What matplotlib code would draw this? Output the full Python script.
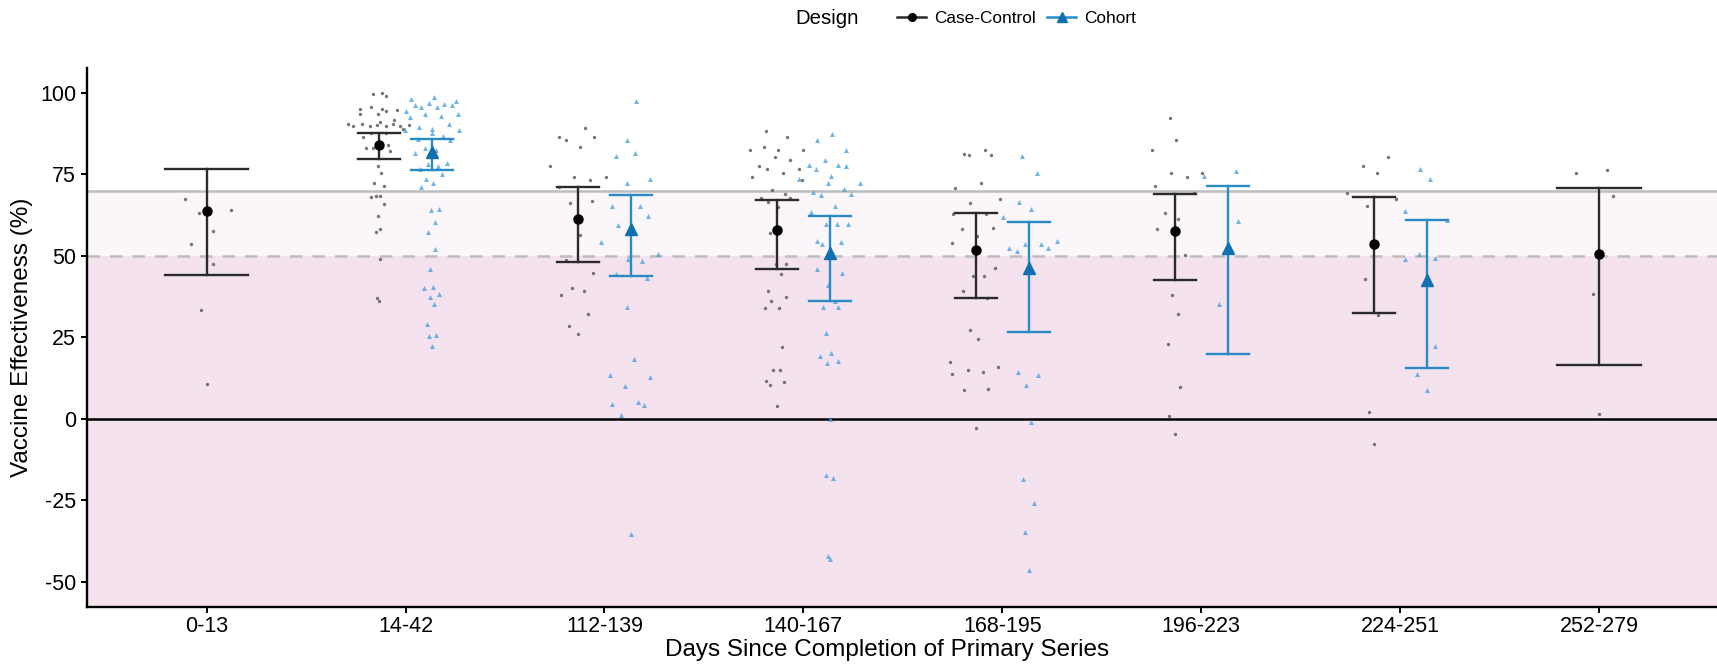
import matplotlib
matplotlib.use("Agg")
import matplotlib.pyplot as plt
from matplotlib.lines import Line2D

plt.rcParams['font.family'] = ['Liberation Sans', 'DejaVu Sans']
plt.rcParams['axes.unicode_minus'] = False

# categories on the x axis
categories = ["0-13", "14-42", "112-139", "140-167", "168-195", "196-223", "224-251", "252-279"]

# pooled estimates (None = design not present for that interval)
cc_mean = [63.8, 84.0, 61.4, 58.0, 51.9, 57.7, 53.5, 50.6]
cc_lo = [44.0, 79.7, 48.1, 46.1, 37.1, 42.6, 32.5, 16.6]
cc_hi = [76.7, 87.5, 71.1, 67.2, 63.2, 68.9, 67.9, 70.9]
co_mean = [None, 81.8, 58.1, 51.0, 46.2, 52.4, 42.7, None]
co_lo = [None, 76.2, 43.9, 36.2, 26.7, 20.0, 15.5, None]
co_hi = [None, 85.7, 68.6, 62.1, 60.5, 71.5, 61.1, None]

# individual study estimates, case-control
cc_points = [
    [67.4, 63.0, 63.9, 57.6, 53.6, 47.5, 33.4, 10.6],
    [99.6, 99.9, 99.0, 95.0, 95.7, 95.0, 94.3, 94.6, 93.4, 93.5, 90.4, 89.7, 90.4, 89.7, 90.2,
     91.0, 89.7, 90.4, 89.7, 88.9, 90.2, 91.5, 87.5, 87.5, 86.4, 83.1, 82.9, 84.0, 82.2, 77.4,
     75.4, 72.3, 71.4, 68.1, 68.3, 68.3, 65.9, 62.2, 57.3, 58.2, 49.1, 37.2, 36.1],
    [89.1, 86.4, 85.4, 86.4, 83.4, 77.4, 74.3, 73.3, 74.3, 71.1, 66.3, 66.7, 56.4, 48.8, 44.7,
     40.2, 39.3, 38.1, 32.1, 28.5, 26.0],
    [88.4, 86.4, 83.3, 82.3, 82.3, 82.3, 80.4, 79.4, 77.4, 76.5, 76.5, 75.3, 74.3, 73.3, 70.3,
     68.8, 67.6, 66.5, 67.6, 65.0, 56.9, 47.5, 47.5, 44.5, 39.3, 36.1, 37.3, 34.1, 34.1, 22.1,
     15.0, 15.0, 11.5, 10.5, 11.4, 4.0],
    [81.3, 80.8, 82.3, 80.8, 70.9, 72.2, 66.2, 67.3, 62.9, 62.9, 58.2, 58.6, 56.2, 53.9, 46.2,
     43.7, 43.7, 39.2, 37.2, 27.1, 24.4, 17.5, 13.9, 14.9, 14.4, 16.0, 8.8, 9.2, -2.7],
    [92.4, 85.4, 82.3, 75.3, 74.3, 75.3, 71.4, 69.2, 63.2, 61.3, 58.2, 50.2, 38.1, 32.1, 23.1,
     9.7, 1.0, -4.5],
    [80.4, 77.4, 75.3, 69.3, 67.3, 65.3, 43.0, 31.9, 2.0, -7.6],
    [75.3, 76.3, 68.3, 38.4, 1.4],
]
cc_jitter = [
    [-0.11, -0.04, 0.12, 0.03, -0.08, 0.03, -0.03, 0.0],
    [-0.163, -0.118, -0.100, -0.231, -0.172, -0.118, -0.100, -0.041, -0.231, -0.140, -0.289,
     -0.262, -0.217, -0.181, -0.145, -0.127, -0.100, -0.065, -0.029, -0.014, 0.018, -0.059,
     -0.172, -0.097, -0.212, -0.163, -0.199, -0.086, -0.079, -0.140, -0.122, -0.158, -0.108,
     -0.172, -0.151, -0.127, -0.106, -0.140, -0.149, -0.127, -0.129, -0.143, -0.133],
    [-0.097, -0.231, -0.195, -0.052, -0.124, -0.276, -0.152, -0.072, 0.009, -0.228, -0.174,
     -0.061, -0.125, -0.195, -0.057, -0.161, -0.102, -0.221, -0.082, -0.176, -0.133],
    [-0.188, -0.081, -0.197, -0.269, -0.129, -0.004, -0.143, -0.066, -0.224, -0.183, -0.023,
     -0.104, -0.260, -0.009, -0.160, -0.095, -0.215, -0.179, -0.068, -0.129, -0.170, -0.140,
     -0.086, -0.111, -0.179, -0.161, -0.088, -0.192, -0.125, -0.106, -0.151, -0.117, -0.186,
     -0.169, -0.099, -0.133],
    [-0.195, -0.169, -0.088, -0.057, -0.240, -0.109, -0.163, -0.014, -0.246, -0.082, -0.201,
     -0.048, -0.125, -0.251, -0.038, -0.147, -0.091, -0.197, -0.079, -0.163, -0.124, -0.262,
     -0.251, -0.174, -0.095, -0.020, -0.194, -0.074, -0.134],
    [-0.158, -0.125, -0.246, -0.152, -0.072, 0.005, -0.233, -0.036, -0.181, -0.117, -0.222,
     -0.084, -0.145, -0.118, -0.167, -0.109, -0.161, -0.133],
    [-0.061, -0.186, -0.115, -0.269, -0.022, -0.167, -0.177, -0.111, -0.158, -0.133],
    [-0.117, 0.039, 0.070, -0.029, 0.0],
]

# individual study estimates, cohort
co_points = [
    [],
    [98.1, 96.3, 95.6, 96.7, 98.7, 95.5, 96.5, 96.2, 97.6, 94.4, 92.6, 93.5, 92.9, 93.5, 89.4,
     88.8, 88.6, 90.4, 88.6, 87.5, 86.6, 85.6, 85.8, 82.9, 81.4, 82.5, 78.2, 77.6, 78.5, 76.5,
     75.2, 73.4, 72.4, 71.0, 64.1, 64.4, 60.4, 57.3, 52.1, 45.8, 40.2, 40.3, 37.3, 38.2, 35.2,
     29.2, 25.4, 25.8, 22.3],
    [97.6, 85.6, 81.4, 80.5, 73.4, 72.3, 65.3, 65.4, 62.2, 59.3, 54.3, 50.4, 49.0, 48.3, 44.3,
     43.2, 34.2, 18.2, 13.4, 12.8, 10.0, 4.5, 5.2, 4.2, 1.2, -35.2],
    [87.3, 85.4, 82.5, 79.5, 77.8, 76.6, 77.9, 77.5, 74.5, 73.5, 72.4, 72.3, 70.4, 69.5, 68.5,
     68.9, 65.4, 63.3, 59.6, 59.6, 59.7, 54.4, 53.5, 54.3, 46.0, 44.6, 40.9, 36.2, 34.2, 34.2,
     26.3, 19.2, 20.2, 17.1, 17.8, 0.1, -17.3, -18.0, -42.0, -42.9],
    [80.6, 75.5, 66.4, 64.4, 61.8, 52.5, 51.4, 53.5, 53.5, 52.5, 54.4, 14.3, 13.3, 10.3, -0.9,
     -18.6, -25.9, -34.6, -46.3],
    [74.5, 76.0, 60.6, 35.3],
    [76.5, 73.4, 63.6, 61.0, 50.5, 49.0, 49.4, 22.3, 13.7, 8.8],
    [],
]
co_jitter = [
    [],
    [0.025, 0.048, 0.079, 0.120, 0.145, 0.160, 0.192, 0.231, 0.253, 0.004, 0.020, 0.100, 0.179,
     0.262, 0.065, 0.133, -0.002, 0.217, 0.271, 0.131, 0.186, 0.222, 0.061, 0.100, 0.048, 0.151,
     0.115, 0.165, 0.210, 0.075, 0.181, 0.104, 0.140, 0.079, 0.129, 0.169, 0.147, 0.115, 0.149,
     0.124, 0.093, 0.140, 0.122, 0.170, 0.145, 0.108, 0.117, 0.152, 0.134],
    [0.158, 0.111, 0.152, 0.056, 0.229, 0.115, 0.038, 0.179, 0.219, 0.066, -0.016, 0.271, 0.117,
     0.190, 0.056, 0.212, 0.115, 0.147, 0.029, 0.229, 0.102, 0.038, 0.169, 0.201, 0.082, 0.134],
    [0.143, 0.070, 0.215, 0.106, 0.030, 0.065, 0.174, 0.213, 0.140, -0.020, 0.124, 0.283, 0.203,
     0.048, 0.088, 0.237, 0.158, 0.036, 0.115, 0.169, 0.224, 0.068, 0.093, 0.188, 0.066, 0.195,
     0.125, 0.158, 0.099, 0.172, 0.115, 0.082, 0.140, 0.120, 0.176, 0.136, 0.115, 0.147, 0.122,
     0.134],
    [0.099, 0.172, 0.084, 0.142, 0.004, 0.036, 0.075, 0.115, 0.192, 0.231, 0.274, 0.081, 0.181,
     0.118, 0.143, 0.104, 0.158, 0.113, 0.134],
    [0.016, 0.174, 0.185, 0.091],
    [0.099, 0.149, 0.022, 0.237, 0.095, 0.023, 0.174, 0.174, 0.084, 0.136],
    [],
]

CC_COL = "#2b2b2b"
CO_COL = "#2a8ac6"
CO_MEAN_COL = "#1070b0"
CC_PT = "#555555"
CO_PT = "#4fa3dc"

W, H = 1717, 668
fig = plt.figure(figsize=(W / 100, H / 100), dpi=100)
ax = fig.add_axes([87.3 / W, 0.0918, 0.950, 0.806])

# background bands and reference lines
ax.axhspan(-200, 50, color="#f4e3ee", zorder=0, lw=0)
ax.axhspan(50, 70, color="#fbf6f9", zorder=0, lw=0)
ax.axhline(70, color="#bdbdbd", lw=1.8, zorder=1)
ax.axhline(50, color="#bdbdbd", lw=1.8, ls=(0, (5, 4)), zorder=1)
ax.axhline(0, color="black", lw=1.8, zorder=1)

dodge = 0.133
for i in range(len(categories)):
    x0 = i + 1
    has_co = co_mean[i] is not None
    cc_x = x0 - dodge if has_co else x0
    cap = 0.105 if has_co else 0.21

    # study points
    ax.scatter([x0 + d for d in cc_jitter[i]], cc_points[i], s=6, color=CC_PT,
               alpha=0.8, lw=0, zorder=2)
    if co_points[i]:
        ax.scatter([x0 + d for d in co_jitter[i]], co_points[i], s=13, marker="^",
                   color=CO_PT, alpha=0.8, lw=0, zorder=2)

    # pooled estimates with intervals
    ax.plot([cc_x, cc_x], [cc_lo[i], cc_hi[i]], color=CC_COL, lw=1.7, zorder=3)
    ax.plot([cc_x - cap, cc_x + cap], [cc_lo[i], cc_lo[i]], color=CC_COL, lw=1.7, zorder=3)
    ax.plot([cc_x - cap, cc_x + cap], [cc_hi[i], cc_hi[i]], color=CC_COL, lw=1.7, zorder=3)
    ax.plot(cc_x, cc_mean[i], "o", color="black", ms=6.5, zorder=4)
    if has_co:
        co_x = x0 + dodge
        ax.plot([co_x, co_x], [co_lo[i], co_hi[i]], color=CO_COL, lw=1.7, zorder=3)
        ax.plot([co_x - cap, co_x + cap], [co_lo[i], co_lo[i]], color=CO_COL, lw=1.7, zorder=3)
        ax.plot([co_x - cap, co_x + cap], [co_hi[i], co_hi[i]], color=CO_COL, lw=1.7, zorder=3)
        ax.plot(co_x, co_mean[i], "^", color=CO_MEAN_COL, ms=8, zorder=4)

ax.set_xlim(0.4, 8.6)
ax.set_ylim(-57.6, 107.5)
ax.set_xticks(range(1, len(categories) + 1))
ax.set_xticklabels(categories)
ax.set_yticks([-50, -25, 0, 25, 50, 75, 100])
ax.tick_params(labelsize=15.5, colors="black", length=4, width=1.4)
ax.tick_params(axis="y", pad=4)
ax.tick_params(axis="x", pad=3)
for s in ["top", "right"]:
    ax.spines[s].set_visible(False)
for s in ["left", "bottom"]:
    ax.spines[s].set_linewidth(1.7)
ax.set_xlabel("Days Since Completion of Primary Series", fontsize=17.5, va="center")
ax.set_ylabel("Vaccine Effectiveness (%)", fontsize=17.5, va="center")
ax.xaxis.set_label_coords(0.49, -(650 - 606.7) / (0.806 * H))
ax.yaxis.set_label_coords(-(87.3 - 22) / (0.950 * W), 0.5)

# legend across the top
fig.text(827 / W, 1 - 18.5 / H, "Design", fontsize=14.7, ha="center", va="center")
handles = [
    Line2D([], [], color=CC_COL, lw=1.8, marker="o", markerfacecolor="black",
           markeredgecolor="black", ms=5.5),
    Line2D([], [], color=CO_COL, lw=1.8, marker="^", markerfacecolor=CO_MEAN_COL,
           markeredgecolor=CO_MEAN_COL, ms=6.5),
]
fig.legend(handles, ["Case-Control", "Cohort"], loc="center left",
           bbox_to_anchor=(897 / W, 1 - 18.5 / H), ncol=2, frameon=False,
           fontsize=12.4, handlelength=1.7, handletextpad=0.45, columnspacing=0.65,
           borderaxespad=0, borderpad=0)

fig.savefig("out.png", dpi=100)
